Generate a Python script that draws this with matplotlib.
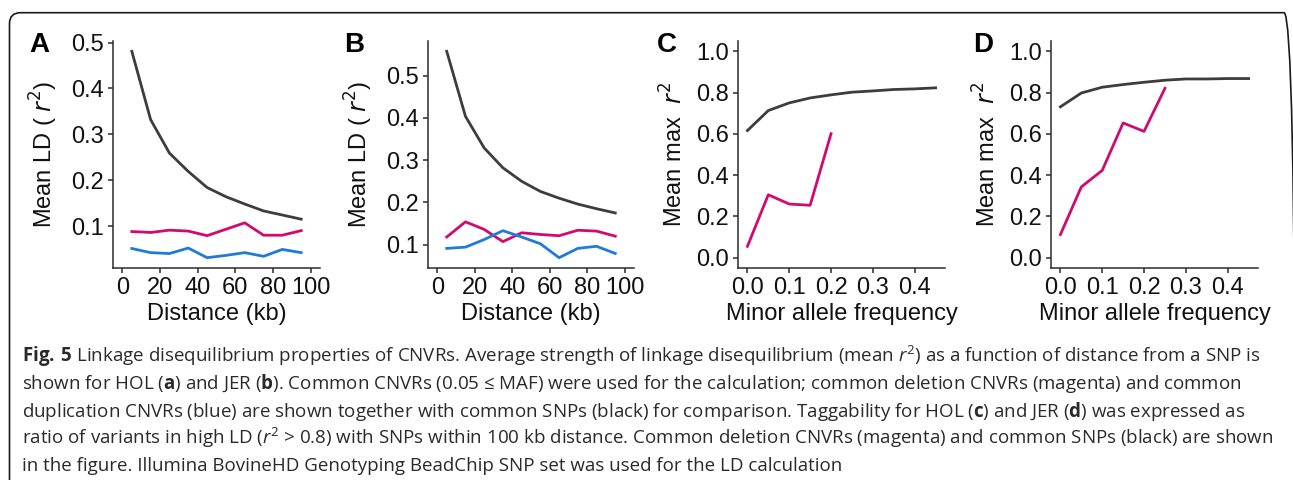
import matplotlib
matplotlib.use("Agg")
import matplotlib.pyplot as plt
from matplotlib.patches import FancyBboxPatch
from matplotlib.transforms import IdentityTransform

# ---------------- data ----------------
dist_kb = [5, 15, 25, 35, 45, 55, 65, 75, 85, 95]
hol_snp = [0.481, 0.332, 0.259, 0.219, 0.184, 0.164, 0.148, 0.133, 0.124, 0.115]
hol_del = [0.088, 0.086, 0.091, 0.089, 0.079, 0.093, 0.107, 0.080, 0.080, 0.090]
hol_dup = [0.051, 0.042, 0.040, 0.052, 0.031, 0.036, 0.042, 0.034, 0.049, 0.042]
jer_snp = [0.558, 0.404, 0.329, 0.282, 0.250, 0.226, 0.210, 0.196, 0.185, 0.175]
jer_del = [0.118, 0.154, 0.136, 0.107, 0.128, 0.124, 0.121, 0.134, 0.132, 0.120]
jer_dup = [0.091, 0.094, 0.112, 0.133, 0.118, 0.102, 0.069, 0.091, 0.096, 0.079]

maf = [0.0, 0.05, 0.10, 0.15, 0.20, 0.25, 0.30, 0.35, 0.40, 0.45]
hol_tag_snp = [0.616, 0.713, 0.750, 0.774, 0.789, 0.802, 0.808, 0.815, 0.818, 0.823]
hol_tag_del = [0.055, 0.305, 0.260, 0.254, 0.601]
jer_tag_snp = [0.731, 0.798, 0.826, 0.839, 0.850, 0.860, 0.866, 0.866, 0.868, 0.868]
jer_tag_del = [0.112, 0.343, 0.423, 0.653, 0.612, 0.821]

dist_ticks = [0, 20, 40, 60, 80, 100]
dist_ticklabels = ["0", "20", "40", "60", "80", "100"]
ld_ticks_a = [0.1, 0.2, 0.3, 0.4, 0.5]
ld_ticks_b = [0.1, 0.2, 0.3, 0.4, 0.5]
ld_ticklabels = ["0.1", "0.2", "0.3", "0.4", "0.5"]
maf_ticks = [0.0, 0.1, 0.2, 0.3, 0.4]
maf_ticklabels = ["0.0", "0.1", "0.2", "0.3", "0.4"]
tag_ticks = [0.0, 0.2, 0.4, 0.6, 0.8, 1.0]
tag_ticklabels = ["0.0", "0.2", "0.4", "0.6", "0.8", "1.0"]

panel_letters = ["A", "B", "C", "D"]
xlabel_ld = "Distance (kb)"
ylabel_ld = "Mean LD ( $r^2$)"
xlabel_tag = "Minor allele frequency"
ylabel_tag = "Mean max  $r^2$"

caption_lines = [
    r"$\mathbf{Fig.\:5}$ Linkage disequilibrium properties of CNVRs. Average strength of linkage disequilibrium (mean $r^2$) as a function of distance from a SNP is",
    r"shown for HOL ($\mathbf{a}$) and JER ($\mathbf{b}$). Common CNVRs (0.05 ≤ MAF) were used for the calculation; common deletion CNVRs (magenta) and common",
    r"duplication CNVRs (blue) are shown together with common SNPs (black) for comparison. Taggability for HOL ($\mathbf{c}$) and JER ($\mathbf{d}$) was expressed as",
    r"ratio of variants in high LD ($r^2$ > 0.8) with SNPs within 100 kb distance. Common deletion CNVRs (magenta) and common SNPs (black) are shown",
    r"in the figure. Illumina BovineHD Genotyping BeadChip SNP set was used for the LD calculation",
]

# ---------------- style ----------------
W, H = 1293, 480
plt.rcParams["mathtext.fontset"] = "custom"
plt.rcParams["mathtext.rm"] = "Open Sans"
plt.rcParams["mathtext.it"] = "Open Sans:italic"
plt.rcParams["mathtext.bf"] = "Open Sans:bold"

C_SNP = "#3d3d3d"
C_DEL = "#d10a70"
C_DUP = "#1e7bd6"
AX_C = "#2b2b2b"
LW = 2.0
FS = 17
FONT = ["Liberation Sans", "DejaVu Sans"]

fig = plt.figure(figsize=(W / 100, H / 100), dpi=100)


def make_ax(l, t, r, b):
    return fig.add_axes([l / W, 1 - b / H, (r - l) / W, (b - t) / H])


def expand(vals, frac=0.05):
    lo, hi = min(vals), max(vals)
    p = (hi - lo) * frac
    return lo - p, hi + p


def style(ax, xticks, xtl, yticks, ytl, xlim, ylim, xlabel, ylabel, ylabelpad):
    for s in ["top", "right"]:
        ax.spines[s].set_visible(False)
    for s in ["left", "bottom"]:
        ax.spines[s].set_color(AX_C)
        ax.spines[s].set_linewidth(1.1)
    ax.set_xlim(*xlim)
    ax.set_ylim(*ylim)
    ax.set_xticks(xticks)
    ax.set_yticks(yticks)
    ax.set_xticklabels(xtl)
    ax.set_yticklabels(ytl)
    ax.tick_params(length=5 * 0.72, width=1.1, color=AX_C, pad=3.2,
                   labelsize=FS, labelcolor="#111111")
    for lab in ax.get_xticklabels() + ax.get_yticklabels():
        lab.set_family(FONT)
    ax.set_xlabel(xlabel, fontsize=FS, family=FONT, labelpad=2.5, color="#111111")
    ax.set_ylabel(ylabel, fontsize=FS, family=FONT, labelpad=ylabelpad,
                  color="#111111", math_fontfamily="dejavusans")
    ax.patch.set_alpha(0)


rects = [(113, 41, 320, 268), (428, 41, 634, 268), (738, 41, 945, 268), (1051, 41, 1258, 268)]

# Panel A
axA = make_ax(*rects[0])
axA.plot(dist_kb, hol_snp, color=C_SNP, lw=LW)
axA.plot(dist_kb, hol_del, color=C_DEL, lw=LW)
axA.plot(dist_kb, hol_dup, color=C_DUP, lw=LW)
style(axA, dist_ticks, dist_ticklabels, ld_ticks_a, ld_ticklabels, expand(dist_ticks),
      expand(hol_snp + hol_del + hol_dup), xlabel_ld, ylabel_ld, 8)

# Panel B
axB = make_ax(*rects[1])
axB.plot(dist_kb, jer_snp, color=C_SNP, lw=LW)
axB.plot(dist_kb, jer_del, color=C_DEL, lw=LW)
axB.plot(dist_kb, jer_dup, color=C_DUP, lw=LW)
style(axB, dist_ticks, dist_ticklabels, ld_ticks_b, ld_ticklabels, expand(dist_ticks),
      expand(jer_snp + jer_del + jer_dup), xlabel_ld, ylabel_ld, 8)

# Panel C
axC = make_ax(*rects[2])
axC.plot(maf, hol_tag_snp, color=C_SNP, lw=LW)
axC.plot(maf[:len(hol_tag_del)], hol_tag_del, color=C_DEL, lw=LW)
style(axC, maf_ticks, maf_ticklabels, tag_ticks, tag_ticklabels, expand(maf),
      expand(tag_ticks), xlabel_tag, ylabel_tag, 6)

# Panel D
axD = make_ax(*rects[3])
axD.plot(maf, jer_tag_snp, color=C_SNP, lw=LW)
axD.plot(maf[:len(jer_tag_del)], jer_tag_del, color=C_DEL, lw=LW)
style(axD, maf_ticks, maf_ticklabels, tag_ticks, tag_ticklabels, expand(maf),
      expand(tag_ticks), xlabel_tag, ylabel_tag, 6)

# Panel letters
letter_pos = [(29, 52), (344, 52), (657, 52), (973, 52)]
for (x, y), L in zip(letter_pos, panel_letters):
    fig.text(x / W, 1 - y / H, L, fontsize=20, fontweight="bold", family=FONT,
             ha="left", va="baseline", color="#000000")

# Caption
cap_x = 22
cap_base0 = 362
cap_step = 27.3
cap_texts = []
for i, line in enumerate(caption_lines):
    t = fig.text(cap_x / W, 1 - (cap_base0 + i * cap_step) / H, line,
                 fontsize=12, family=["Open Sans", "DejaVu Sans"],
                 ha="left", va="baseline", color="#2a2a2a")
    cap_texts.append(t)
fig.canvas.draw()
r = fig.canvas.get_renderer()
w4 = cap_texts[3].get_window_extent(r).width
target = 1268 - cap_x
new_fs = 12 * target / w4
for t in cap_texts:
    t.set_fontsize(new_fs)

# Frame (rounded rectangle, partly cropped)
frame = FancyBboxPatch((9.5, -40), 1295 - 9.5, (H - 12.7) + 40,
                       boxstyle="round,pad=0,rounding_size=11",
                       transform=IdentityTransform(), fill=False,
                       lw=1.2, ec="#1a1a1a")
fig.add_artist(frame)

fig.savefig("out.png", dpi=100)
